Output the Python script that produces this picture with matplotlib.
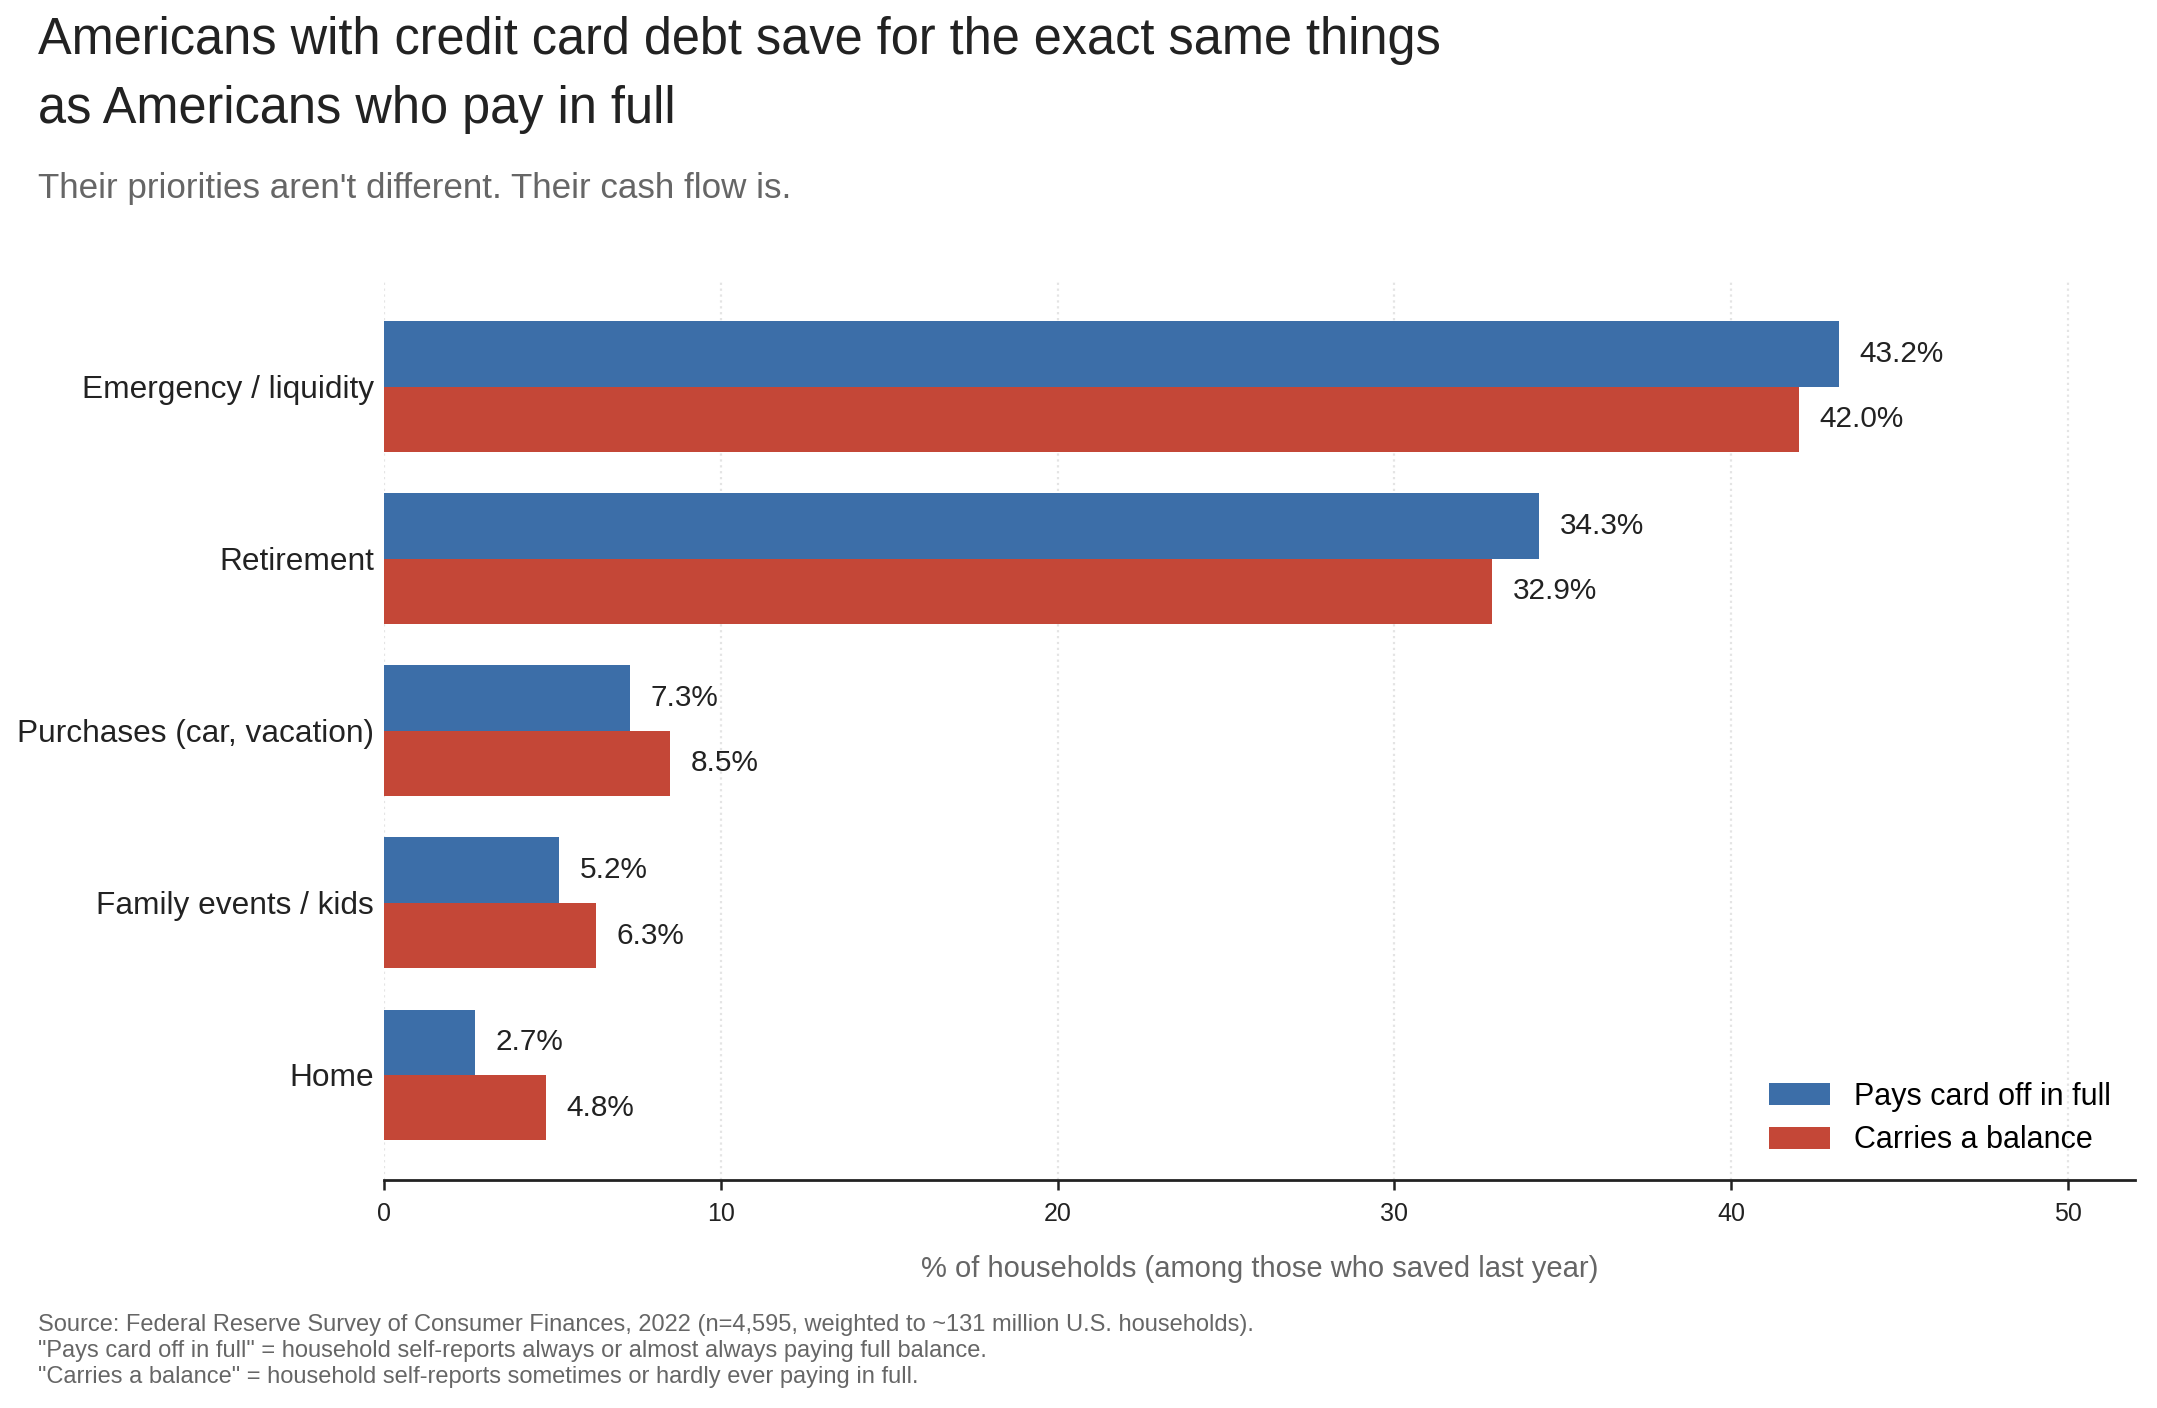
import matplotlib
matplotlib.use("Agg")
import matplotlib.pyplot as plt
import numpy as np

plt.rcParams['font.family'] = ['Liberation Sans', 'DejaVu Sans']

categories = ["Emergency / liquidity", "Retirement", "Purchases (car, vacation)",
              "Family events / kids", "Home"]
pays_full = [43.2, 34.3, 7.3, 5.2, 2.7]
carries_balance = [42.0, 32.9, 8.5, 6.3, 4.8]
series_names = ["Pays card off in full", "Carries a balance"]
xticks = [0, 10, 20, 30, 40, 50]

BLUE = "#3c6ea8"
RED = "#c44737"
DARK = "#222222"
GRAY = "#666666"

fig = plt.figure(figsize=(10.785, 7.04), dpi=200)
ax = fig.add_axes([0.178, 0.162, 0.812, 0.638])

y = np.arange(len(categories))
h = 0.38
b1 = ax.barh(y - h / 2, pays_full, height=h, color=BLUE, label=series_names[0])
b2 = ax.barh(y + h / 2, carries_balance, height=h, color=RED, label=series_names[1])

# value labels just past the end of each bar
for bars, vals in ((b1, pays_full), (b2, carries_balance)):
    for bar, v in zip(bars, vals):
        ax.annotate(f"{v:.1f}%", (bar.get_width(), bar.get_y() + bar.get_height() / 2),
                    xytext=(7.5, 0), textcoords="offset points",
                    ha="left", va="center", fontsize=10.7, color=DARK)

ax.set_xlim(0, 52)
ax.set_ylim(4.61, -0.61)
ax.set_xticks(xticks)
ax.set_yticks(y)
ax.set_yticklabels(categories)
ax.tick_params(axis="y", length=0, pad=3.6, labelsize=11.4, colors=DARK)
ax.tick_params(axis="x", length=3.5, width=0.9, pad=4.3, labelsize=9, colors=DARK)

for s in ("top", "right", "left"):
    ax.spines[s].set_visible(False)
ax.spines["bottom"].set_linewidth(1.0)
ax.spines["bottom"].set_color(DARK)

ax.grid(axis="x", linestyle=":", color="#e4e4e4", linewidth=0.8)
ax.set_axisbelow(True)

ax.set_xlabel("% of households (among those who saved last year)", fontsize=10.5,
              color=GRAY, labelpad=10.5)

ax.legend(loc="lower right", frameon=False, fontsize=11, handlelength=2.0,
          handleheight=0.72, handletextpad=0.78, labelspacing=0.45,
          borderaxespad=0.4)

fig.text(0.0176, 0.9126, "Americans with credit card debt save for the exact same things\nas Americans who pay in full",
         fontsize=18.2, color=DARK, va="baseline", ha="left", linespacing=1.53)
fig.text(0.0176, 0.8594, "Their priorities aren't different. Their cash flow is.",
         fontsize=12.6, color=GRAY, va="baseline", ha="left")
fig.text(0.0176, 0.0178,
         "Source: Federal Reserve Survey of Consumer Finances, 2022 (n=4,595, weighted to ~131 million U.S. households).\n"
         "\"Pays card off in full\" = household self-reports always or almost always paying full balance.\n"
         "\"Carries a balance\" = household self-reports sometimes or hardly ever paying in full.",
         fontsize=8.5, color=GRAY, va="baseline", ha="left", linespacing=1.22)

fig.savefig("out.png", dpi=200)
